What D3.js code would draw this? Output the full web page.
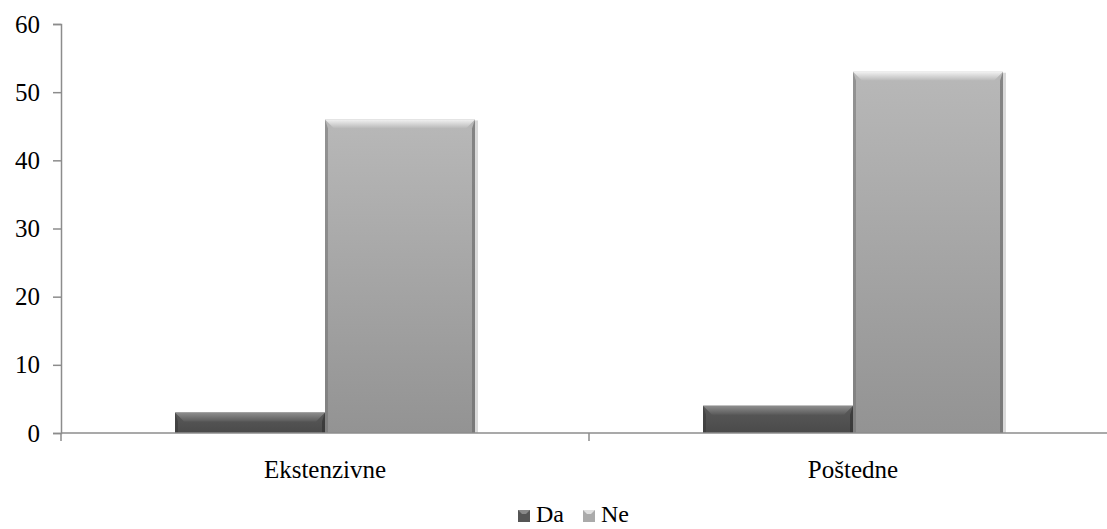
<!DOCTYPE html>
<html>
<head>
<meta charset="utf-8">
<script src="https://cdn.jsdelivr.net/npm/d3@7"></script>
<style>
  body { margin: 0; background: #fff; }
</style>
</head>
<body>
<div id="chart"></div>
<script>
// chart data
const categories = ["Ekstenzivne", "Poštedne"];
const seriesNames = ["Da", "Ne"];
const daValues = [3, 4];
const neValues = [46, 53];
const yTicks = [0, 10, 20, 30, 40, 50, 60];

const width = 1107, height = 529;
const margin = {left: 61};
const plotRight = 1117;
const serif = "'Liberation Serif', 'Times New Roman', serif";

let svg = d3.select("#chart").append("svg")
  .attr("width", width)
  .attr("height", height);

let defs = svg.append("defs");

// gradients for the bevelled bars
function addGrad(id, top, bottom) {
  let g = defs.append("linearGradient").attr("id", id)
    .attr("x1", 0).attr("y1", 0).attr("x2", 0).attr("y2", 1);
  g.append("stop").attr("offset", "0%").attr("stop-color", top);
  g.append("stop").attr("offset", "100%").attr("stop-color", bottom);
}
addGrad("gDa", "#5a5a5a", "#4a4a4a");
addGrad("gNe", "#b8b8b8", "#939393");
addGrad("tDa", "#8e8e8e", "#5a5a5a");
addGrad("tNe", "#f2f2f2", "#b8b8b8");

const colors = {
  Da: {fill: "url(#gDa)", top: "url(#tDa)", side: "#333", base: "#555", ltop: "#888"},
  Ne: {fill: "url(#gNe)", top: "url(#tNe)", side: "#6e6e6e", base: "#aaa", ltop: "#e0e0e0"}
};

let y = d3.scaleLinear().domain([0, 60]).range([433, 24]);

let x0 = d3.scaleBand().domain(categories).range([margin.left, plotRight]);
let x1 = d3.scaleBand().domain(seriesNames).range([0, x0.bandwidth()]).paddingOuter(0.76).paddingInner(0);

// y axis
let yAxis = svg.append("g")
  .attr("transform", `translate(${margin.left},0)`)
  .call(d3.axisLeft(y).tickValues(yTicks).tickSize(8).tickPadding(13));
yAxis.select(".domain").attr("stroke", "#8c8c8c").attr("stroke-width", 1.5);
yAxis.selectAll(".tick line").attr("stroke", "#8c8c8c").attr("stroke-width", 1.5);
yAxis.selectAll(".tick text").style("font-size", "25px").style("font-family", serif).style("fill", "#000");

// bars
let data = categories.map((c, i) => ({cat: c, values: [
  {key: "Da", value: daValues[i]},
  {key: "Ne", value: neValues[i]}
]}));

let groups = svg.selectAll(".grp").data(data).enter().append("g")
  .attr("class", "grp")
  .attr("transform", d => `translate(${x0(d.cat)},0)`);

groups.each(function(d) {
  let g = d3.select(this);
  d.values.forEach(v => {
    let bx = x1(v.key), bw = x1.bandwidth();
    let by = y(v.value), bh = y(0) - y(v.value);
    let c = colors[v.key];
    let bev = Math.min(9, bh / 2);
    // soft shadow
    g.append("rect").attr("x", bx + 1).attr("y", by + 1).attr("width", bw + 2).attr("height", bh - 1)
      .attr("fill", "#000").attr("opacity", 0.15);
    g.append("rect").attr("x", bx).attr("y", by).attr("width", bw).attr("height", bh)
      .attr("fill", c.fill);
    // side bevels
    g.append("polygon")
      .attr("points", [[bx, by], [bx + 3, by + bev], [bx + 3, by + bh], [bx, by + bh]].join(" "))
      .attr("fill", c.side).attr("opacity", 0.5);
    g.append("polygon")
      .attr("points", [[bx + bw, by], [bx + bw - 3, by + bev], [bx + bw - 3, by + bh], [bx + bw, by + bh]].join(" "))
      .attr("fill", c.side).attr("opacity", 0.7);
    // top bevel
    g.append("polygon")
      .attr("points", [[bx, by], [bx + bw, by], [bx + bw - bev, by + bev], [bx + bev, by + bev]].join(" "))
      .attr("fill", c.top);
  });
});

// x axis
let xAxis = svg.append("g").attr("transform", `translate(0,${y(0)})`);
xAxis.append("line").attr("x1", margin.left).attr("x2", plotRight)
  .attr("stroke", "#8c8c8c").attr("stroke-width", 1.5);
xAxis.selectAll(".xt").data([margin.left, ...categories.map(c => x0(c) + x0.bandwidth())])
  .enter().append("line")
  .attr("x1", d => d).attr("x2", d => d).attr("y1", 0).attr("y2", 8)
  .attr("stroke", "#8c8c8c").attr("stroke-width", 1.5);
xAxis.selectAll(".xl").data(categories).enter().append("text")
  .attr("x", d => x0(d) + x0.bandwidth() / 2)
  .attr("y", 45)
  .attr("text-anchor", "middle")
  .style("font-size", "25px").style("font-family", serif)
  .text(d => d);

// legend
let legend = svg.append("g").attr("transform", "translate(518,522)");
let lx = [0, 65];
seriesNames.forEach((s, i) => {
  let item = legend.append("g").attr("transform", `translate(${lx[i]},0)`);
  item.append("rect").attr("x", 0).attr("y", -12).attr("width", 12).attr("height", 12)
    .attr("fill", colors[s].base);
  item.append("polygon").attr("points", "0,-12 12,-12 8,-8 4,-8").attr("fill", colors[s].ltop);
  item.append("text").attr("x", 18).attr("y", 0)
    .style("font-size", "24px").style("font-family", serif).text(s);
});
</script>
</body>
</html>
